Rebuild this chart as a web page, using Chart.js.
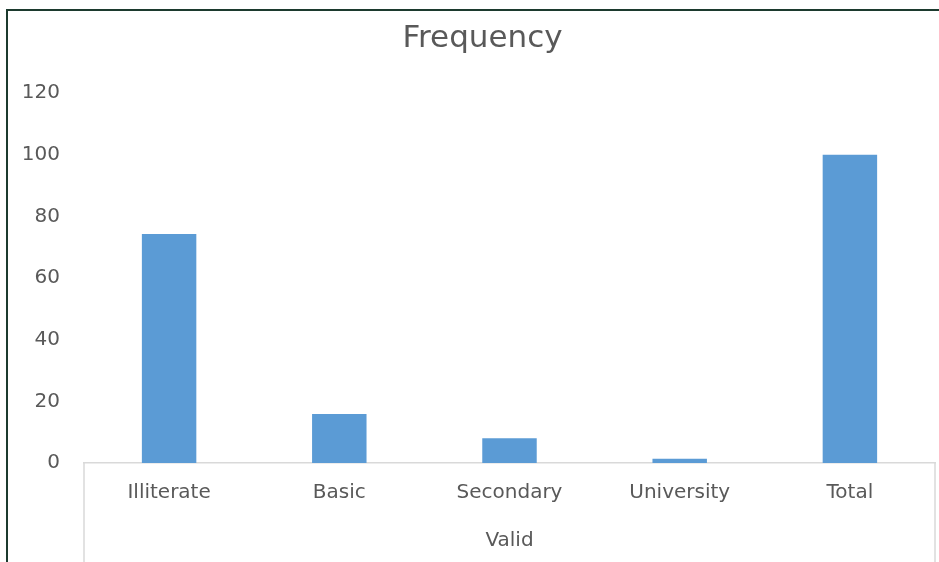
<!DOCTYPE html>
<html>
<head>
<meta charset="utf-8">
<title>Frequency</title>
<script src="https://cdn.jsdelivr.net/npm/chart.js@4/dist/chart.umd.min.js"></script>
<style>
  html, body { margin: 0; padding: 0; background: #ffffff; overflow: hidden; width: 939px; height: 562px; }
  #wrap { position: relative; width: 939px; height: 562px; overflow: hidden; }
  #frame {
    position: absolute; left: 6px; top: 9px; width: 2000px; height: 2000px;
    border-left: 2px solid #1c3a2e; border-top: 2px solid #1c3a2e;
    pointer-events: none;
  }
  canvas { position: absolute; left: 0; top: 0; }
</style>
</head>
<body>
<div id="wrap">
  <canvas id="chart" width="965" height="575"></canvas>
  <div id="frame"></div>
</div>
<script>
// Education level categories and their frequencies
const categories = ['Illiterate', 'Basic', 'Secondary', 'University', 'Total'];
const frequency = [74.3, 15.9, 8, 1.4, 100];
const groupLabel = 'Valid';
const chartTitle = 'Frequency';
const yTicks = { min: 0, max: 120, step: 20 };

const TEXT = '#595959';
const AXIS = '#d9d9d9';
const FONT = 'DejaVu Sans';

// Chart title, centred on the whole chart object rather than the plot
const centredTitle = {
  id: 'centredTitle',
  afterDraw(chart) {
    const ctx = chart.ctx;
    ctx.save();
    ctx.fillStyle = TEXT;
    ctx.font = '31px "' + FONT + '"';
    ctx.textAlign = 'center';
    ctx.textBaseline = 'middle';
    ctx.fillText(chartTitle, chart.width / 2, 38.6);
    ctx.restore();
  }
};

// Draws the side edges of the grouped category axis box
const groupBox = {
  id: 'groupBox',
  afterDraw(chart) {
    const x = chart.scales.x;
    const ctx = chart.ctx;
    ctx.save();
    ctx.strokeStyle = AXIS;
    ctx.lineWidth = 1.5;
    ctx.beginPath();
    ctx.moveTo(x.left, x.top);
    ctx.lineTo(x.left, x.bottom);
    ctx.moveTo(x.right, x.top);
    ctx.lineTo(x.right, x.bottom);
    ctx.stroke();
    ctx.restore();
  }
};

new Chart(document.getElementById('chart'), {
  type: 'bar',
  data: {
    labels: categories,
    datasets: [{
      label: 'Frequency',
      data: frequency,
      backgroundColor: '#5b9bd5',
      borderWidth: 0,
      barPercentage: 0.32,
      categoryPercentage: 1
    }]
  },
  options: {
    responsive: false,
    animation: false,
    layout: { padding: { left: 0, right: 30, top: 93, bottom: 0 } },
    plugins: {
      legend: { display: false },
      tooltip: { enabled: false },
      title: { display: false }
    },
    scales: {
      x: {
        grid: { display: false, drawTicks: false },
        border: { display: true, color: AXIS, width: 1.5 },
        ticks: { color: TEXT, font: { family: FONT, size: 20 }, padding: 18, maxRotation: 0 },
        title: {
          display: true,
          text: groupLabel,
          color: TEXT,
          font: { family: FONT, size: 20, lineHeight: 1.2 },
          padding: { top: 0, bottom: 22 }
        },
        afterFit(scale) { scale.height = 112; }
      },
      y: {
        min: yTicks.min,
        max: yTicks.max,
        grid: { display: false, drawTicks: false },
        border: { display: false },
        ticks: { stepSize: yTicks.step, color: TEXT, font: { family: FONT, size: 20 }, padding: 24 },
        afterFit(scale) { scale.width = 84; }
      }
    }
  },
  plugins: [centredTitle, groupBox]
});
</script>
</body>
</html>
